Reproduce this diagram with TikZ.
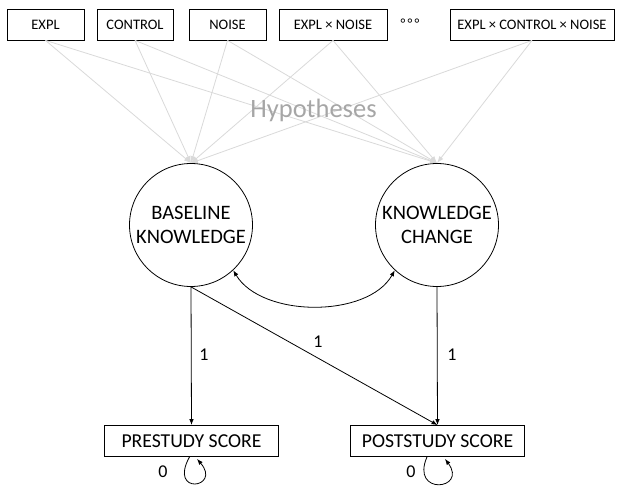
\documentclass[tikz,border=0pt]{standalone}
\usepackage{fontspec}
\setmainfont{Carlito}
\usetikzlibrary{arrows.meta}
\definecolor{hypgray}{RGB}{217,217,217}
\definecolor{hyptext}{RGB}{166,166,166}
\begin{document}
\begin{tikzpicture}[x=1pt,y=-1pt,
    factor/.style={draw,line width=0.8pt,minimum height=31pt,inner sep=0pt,font=\fontsize{14.5}{16}\selectfont},
    latent/.style={draw,circle,line width=0.8pt,minimum size=123pt,inner sep=0pt,align=center,font=\fontsize{20.5}{24}\selectfont},
    score/.style={draw,line width=0.8pt,minimum width=174pt,minimum height=31pt,inner sep=0pt,font=\fontsize{19.7}{22}\selectfont},
    hyp/.style={draw=hypgray,line width=0.8pt,-{Latex[length=7pt,width=5pt]}},
    path/.style={draw,line width=0.8pt,-{Latex[length=6pt,width=4.5pt]}},
    lbl/.style={font=\fontsize{18}{20}\selectfont}]
  \useasboundingbox (0,0) rectangle (621,489);
  %% factors
  \node[factor,minimum width=77pt] (expl) at (45.5,24.5) {EXPL};
  \node[factor,minimum width=76pt] (ctrl) at (135,24.5) {CONTROL};
  \node[factor,minimum width=77pt] (noise) at (227.5,24.5) {NOISE};
  \node[factor,minimum width=108pt] (exn) at (333,24.5) {EXPL × NOISE};
  \node[font=\fontsize{14}{15}\selectfont] (dots) at (410,24) {°\,°\,°};
  \node[factor,minimum width=164pt] (ecn) at (532,24.5) {EXPL × CONTROL × NOISE};
  %% latent variables
  \node[latent] (base) at (191,225) {BASELINE\\KNOWLEDGE};
  \node[latent] (kc) at (437,225) {KNOWLEDGE\\CHANGE};
  %% hypotheses
  \foreach \f in {expl,ctrl,noise,exn,ecn}{
    \draw[hyp] (\f.south) -- (base.north);
    \draw[hyp] (\f.south) -- (kc.north);
  }
  \node[text=hyptext,font=\fontsize{26.5}{30}\selectfont] (hyps) at (313.5,110) {Hypotheses};
  %% scores
  \node[score] (pre) at (191.5,441) {PRESTUDY SCORE};
  \node[score] (post) at (437.5,441) {POSTSTUDY SCORE};
  \draw[path] (base.south) -- (pre.north);
  \draw[path] (base.south) -- (post.north);
  \draw[path] (kc.south) -- (post.north);
  \node[lbl] (l1) at (204,355) {1};
  \node[lbl] (l2) at (318,342) {1};
  \node[lbl] (l3) at (452,355) {1};
  %% covariance
  \draw[line width=0.8pt,{Latex[length=6pt,width=4.5pt]}-{Latex[length=6pt,width=4.5pt]}]
    (base.-47) .. controls (262,318) and (368,318) .. (kc.-133);
  %% residuals
  \draw[path] ([xshift=-2pt]pre.south) .. controls (168,496) and (222,488) .. ([xshift=5.5pt,yshift=-2pt]pre.south);
  \draw[path] ([xshift=-10.5pt]post.south) .. controls (410,496) and (468,490) .. ([xshift=7.5pt,yshift=-2pt]post.south);
  \node[lbl] (r1) at (163,472) {0};
  \node[lbl] (r2) at (411,472) {0};
\end{tikzpicture}
\end{document}
